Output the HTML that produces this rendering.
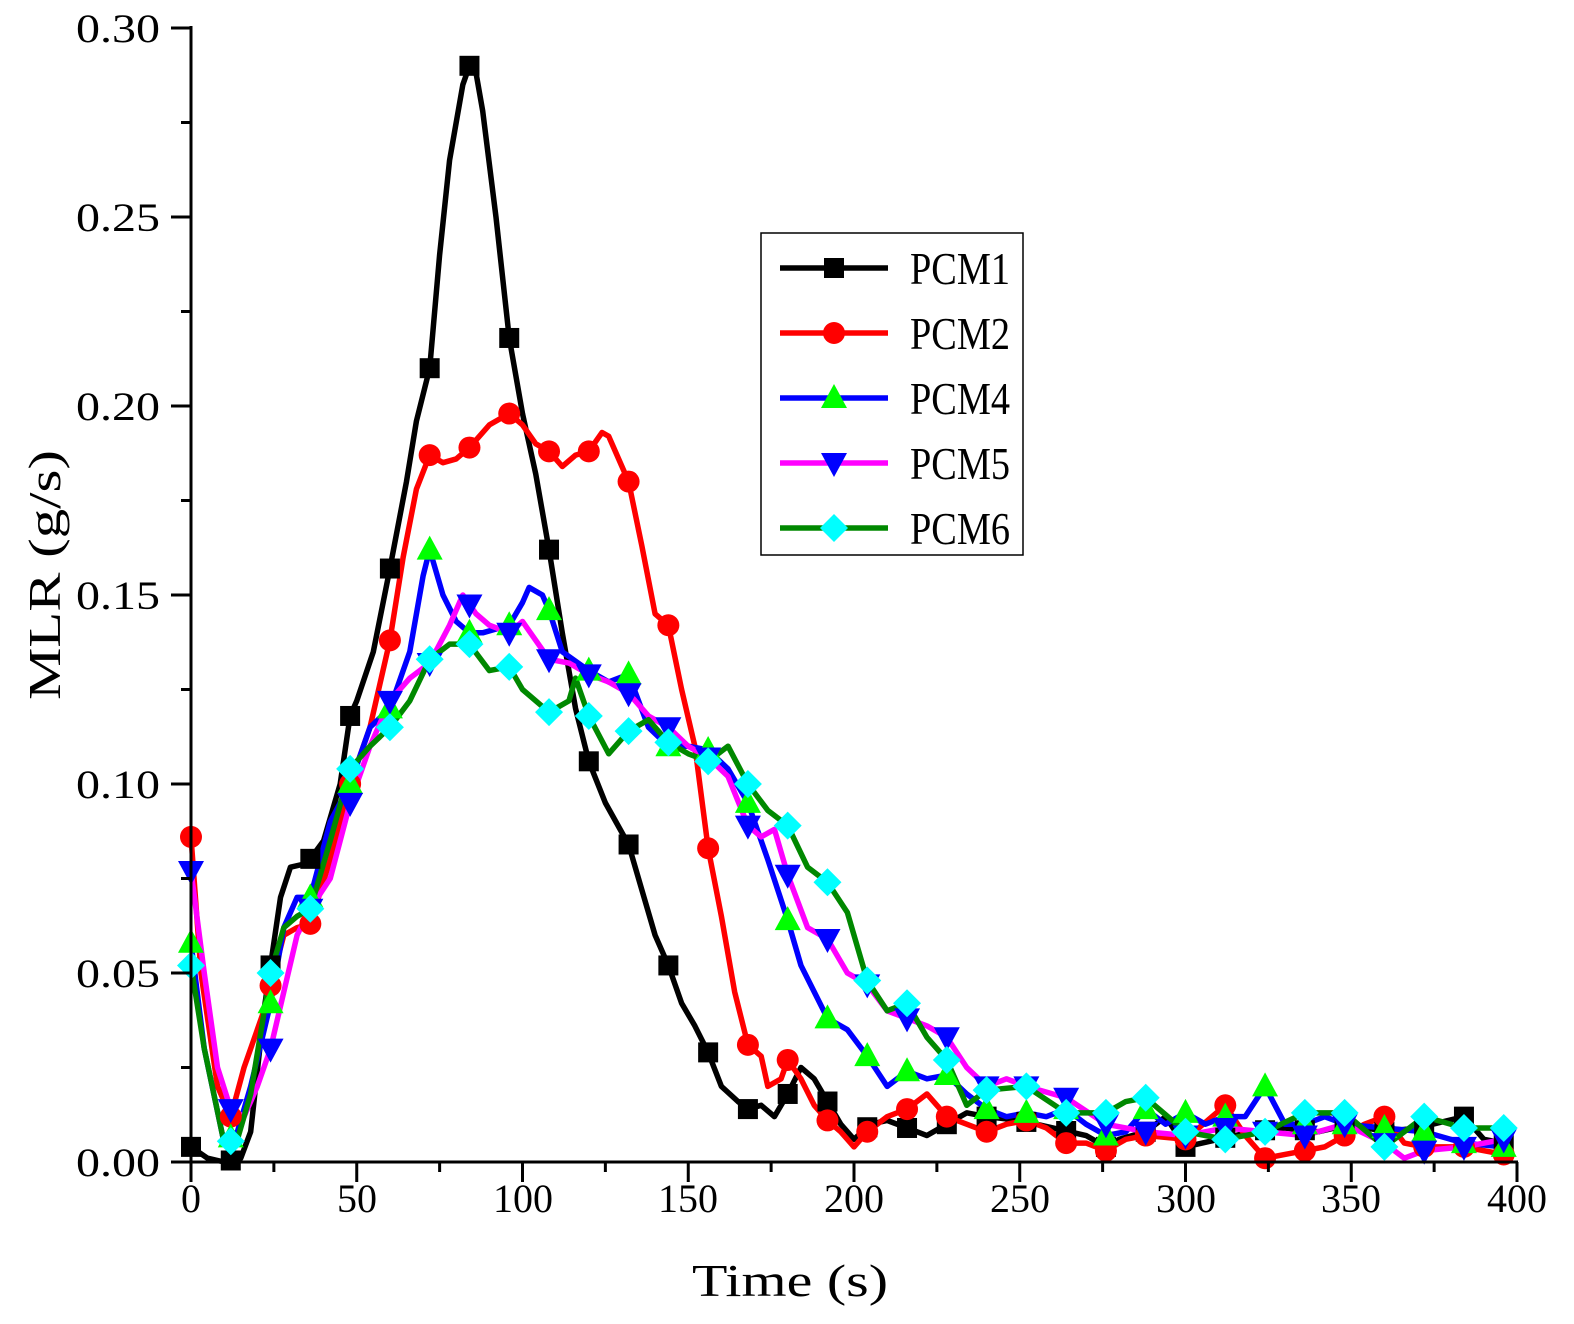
<!DOCTYPE html>
<html><head><meta charset="utf-8"><style>html,body{margin:0;padding:0;background:#fff;overflow:hidden;width:1574px;height:1324px}svg{display:block}</style></head>
<body>
<svg id="s" width="1574" height="1324" xmlns="http://www.w3.org/2000/svg" font-family="Liberation Serif, serif">
<rect width="1574" height="1324" fill="#fff"/>
<g id="plot"></g>
<g stroke="#000" stroke-width="3" fill="none">
<line x1="191" y1="26" x2="191" y2="1163"/>
<line x1="190" y1="1162" x2="1518" y2="1162"/>
</g>
<g id="ticks" stroke="#000" stroke-width="3"></g>
<g font-size="40" text-anchor="end" lengthAdjust="spacingAndGlyphs">
<text x="160" y="1176" textLength="84" lengthAdjust="spacingAndGlyphs">0.00</text>
<text x="160" y="987" textLength="84" lengthAdjust="spacingAndGlyphs">0.05</text>
<text x="160" y="798" textLength="84" lengthAdjust="spacingAndGlyphs">0.10</text>
<text x="160" y="609" textLength="84" lengthAdjust="spacingAndGlyphs">0.15</text>
<text x="160" y="420" textLength="84" lengthAdjust="spacingAndGlyphs">0.20</text>
<text x="160" y="231" textLength="84" lengthAdjust="spacingAndGlyphs">0.25</text>
<text x="160" y="42" textLength="84" lengthAdjust="spacingAndGlyphs">0.30</text>
</g>
<g font-size="40" text-anchor="middle">
<text x="191" y="1212">0</text>
<text x="357" y="1212">50</text>
<text x="523" y="1212">100</text>
<text x="688" y="1212">150</text>
<text x="854" y="1212">200</text>
<text x="1020" y="1212">250</text>
<text x="1186" y="1212">300</text>
<text x="1351" y="1212">350</text>
<text x="1517" y="1212">400</text>
</g>
<text x="790" y="1296" font-size="46" text-anchor="middle" textLength="196" lengthAdjust="spacingAndGlyphs">Time (s)</text>
<text transform="translate(60,575) rotate(-90)" font-size="46" text-anchor="middle" textLength="250" lengthAdjust="spacingAndGlyphs">MLR (g/s)</text>
<rect x="761" y="233" width="262" height="322" fill="#fff" stroke="#000" stroke-width="1.5"/>
<g id="legend"></g>
<g font-size="46">
<text x="910" y="284" textLength="100" lengthAdjust="spacingAndGlyphs">PCM1</text>
<text x="910" y="349" textLength="100" lengthAdjust="spacingAndGlyphs">PCM2</text>
<text x="910" y="414" textLength="100" lengthAdjust="spacingAndGlyphs">PCM4</text>
<text x="910" y="479" textLength="100" lengthAdjust="spacingAndGlyphs">PCM5</text>
<text x="910" y="544" textLength="100" lengthAdjust="spacingAndGlyphs">PCM6</text>
</g>
</svg>
<script>
const X=t=>191+t*3.315, Y=v=>1162-v*3780;
const NS="http://www.w3.org/2000/svg";
function el(p,n,a){const e=document.createElementNS(NS,n);for(const k in a)e.setAttribute(k,a[k]);p.appendChild(e);return e;}
const tk=document.getElementById('ticks');
for(let i=0;i<=12;i++){const y=1162-i*94.5;el(tk,'line',{x1:i%2?181:171,y1:y,x2:191,y2:y});}
for(let i=0;i<=16;i++){const x=191+i*82.875;el(tk,'line',{x1:x,y1:1162,x2:x,y2:i%2?1172:1182});}
const S=[
{c:'#000',m:'sq',mc:'#000',d:[[0,.004],[5,.001],[10,0],[15,.001],[18,.008],[22,.04],[27,.07],[30,.078],[35,.079],[40,.085],[45,.1],[48,.118],[50,.122],[55,.135],[60,.157],[65,.18],[68,.196],[72,.21],[75,.24],[78,.265],[82,.285],[84,.29],[86,.288],[88,.278],[92,.25],[96,.218],[100,.198],[104,.182],[108,.162],[112,.14],[116,.12],[120,.106],[125,.095],[132,.084],[136,.072],[140,.06],[144,.052],[148,.042],[152,.036],[156,.029],[160,.02],[165,.016],[168,.014],[172,.015],[176,.012],[180,.018],[184,.025],[188,.022],[192,.016],[196,.01],[200,.006],[205,.01],[210,.011],[216,.009],[222,.007],[228,.01],[234,.013],[240,.012],[250,.011],[260,.009],[270,.007],[276,.004],[280,.006],[288,.008],[294,.012],[300,.004],[310,.006],[320,.008],[330,.009],[340,.008],[350,.01],[360,.008],[370,.009],[384,.012],[390,.006],[396,.005]]},
{c:'#f00',m:'ci',mc:'#f00',d:[[0,.086],[3,.05],[8,.02],[12,.012],[16,.025],[22,.04],[28,.06],[32,.062],[36,.063],[42,.08],[48,.1],[54,.115],[60,.138],[64,.16],[68,.178],[72,.187],[76,.185],[80,.186],[84,.189],[90,.195],[96,.198],[100,.195],[104,.19],[108,.188],[112,.184],[116,.187],[120,.188],[124,.193],[126,.192],[132,.18],[136,.163],[140,.145],[144,.142],[148,.125],[152,.11],[156,.083],[160,.065],[164,.045],[168,.031],[172,.028],[174,.02],[178,.022],[180,.027],[184,.022],[188,.015],[192,.011],[196,.008],[200,.004],[204,.008],[210,.012],[216,.014],[222,.018],[228,.012],[234,.01],[240,.008],[246,.01],[252,.011],[258,.009],[264,.005],[270,.005],[276,.003],[282,.006],[288,.007],[300,.006],[312,.015],[318,.007],[324,.001],[330,.002],[336,.003],[342,.004],[348,.007],[354,.01],[360,.012],[366,.005],[372,.004],[384,.004],[396,.002]]},
{c:'#00f',m:'tu',mc:'#0f0',d:[[0,.058],[4,.03],[10,.005],[14,.008],[18,.02],[24,.042],[28,.062],[32,.07],[36,.07],[42,.09],[48,.1],[54,.115],[60,.12],[66,.135],[70,.155],[72,.162],[76,.15],[80,.143],[84,.14],[88,.14],[96,.142],[100,.148],[102,.152],[106,.15],[108,.146],[112,.135],[120,.13],[126,.127],[132,.129],[138,.115],[144,.11],[150,.11],[156,.109],[162,.104],[168,.095],[174,.08],[180,.064],[184,.052],[188,.045],[192,.038],[198,.035],[204,.028],[210,.02],[216,.024],[222,.022],[228,.023],[234,.018],[240,.014],[246,.012],[252,.013],[258,.012],[264,.014],[270,.01],[276,.007],[282,.008],[288,.014],[294,.01],[300,.013],[306,.01],[312,.012],[318,.012],[324,.02],[330,.01],[336,.01],[342,.012],[348,.01],[360,.009],[372,.008],[384,.005],[396,.004]]},
{c:'#f0f',m:'td',mc:'#00f',d:[[0,.077],[4,.05],[8,.025],[12,.014],[16,.012],[20,.02],[24,.03],[28,.045],[32,.06],[36,.067],[42,.075],[48,.095],[54,.11],[60,.122],[66,.128],[72,.132],[78,.142],[82,.15],[86,.145],[90,.142],[96,.14],[100,.143],[108,.133],[114,.132],[120,.129],[126,.127],[132,.124],[138,.118],[144,.115],[150,.11],[156,.107],[162,.102],[168,.089],[172,.086],[176,.088],[180,.076],[186,.062],[192,.059],[198,.05],[204,.047],[210,.04],[216,.038],[222,.036],[228,.033],[234,.025],[240,.02],[246,.022],[252,.02],[264,.017],[276,.01],[288,.008],[300,.007],[312,.009],[324,.008],[336,.007],[348,.01],[360,.005],[366,.001],[372,.003],[384,.004],[396,.006]]},
{c:'#080',m:'di',mc:'#0ff',d:[[0,.052],[4,.03],[10,.005],[14,.006],[18,.018],[24,.05],[28,.062],[32,.065],[36,.067],[42,.085],[48,.104],[54,.11],[60,.115],[66,.122],[72,.133],[78,.137],[84,.137],[90,.13],[96,.131],[100,.125],[108,.119],[114,.122],[116,.128],[120,.118],[126,.108],[132,.114],[138,.117],[144,.111],[150,.108],[156,.106],[162,.11],[168,.1],[174,.093],[180,.089],[186,.078],[192,.074],[198,.066],[204,.048],[210,.04],[216,.042],[222,.033],[228,.027],[234,.015],[240,.019],[252,.02],[264,.013],[276,.013],[282,.016],[288,.017],[300,.008],[312,.006],[324,.008],[336,.013],[348,.013],[360,.004],[372,.012],[384,.009],[396,.009]]}];
function interp(d,t){for(let i=1;i<d.length;i++)if(d[i][0]>=t){const a=d[i-1],b=d[i];return a[1]+(b[1]-a[1])*(t-a[0])/(b[0]-a[0]);}return d[d.length-1][1];}
function mark(g,type,x,y,c){
 if(type=='sq')el(g,'rect',{x:x-10,y:y-10,width:20,height:20,fill:c});
 else if(type=='ci')el(g,'circle',{cx:x,cy:y,r:11,fill:c});
 else if(type=='tu')el(g,'polygon',{points:`${x},${y-14} ${x+13},${y+10} ${x-13},${y+10}`,fill:c});
 else if(type=='td')el(g,'polygon',{points:`${x},${y+14} ${x+13},${y-10} ${x-13},${y-10}`,fill:c});
 else el(g,'polygon',{points:`${x},${y-14} ${x+14},${y} ${x},${y+14} ${x-14},${y}`,fill:c});
}
const P=document.getElementById('plot'),L=document.getElementById('legend');
S.forEach(s=>{el(P,'polyline',{points:s.d.map(p=>X(p[0])+','+Y(p[1])).join(' '),fill:'none',stroke:s.c,'stroke-width':5.5,'stroke-linejoin':'round'});});
S.forEach(s=>{for(let t=0;t<=396;t+=12)mark(P,s.m,X(t),Y(interp(s.d,t)),s.mc);});
S.forEach((s,i)=>{const y=268+i*65;el(L,'line',{x1:780,y1:y,x2:888,y2:y,stroke:s.c,'stroke-width':5.5});mark(L,s.m,834,y,s.mc);});
</script>
</body></html>
